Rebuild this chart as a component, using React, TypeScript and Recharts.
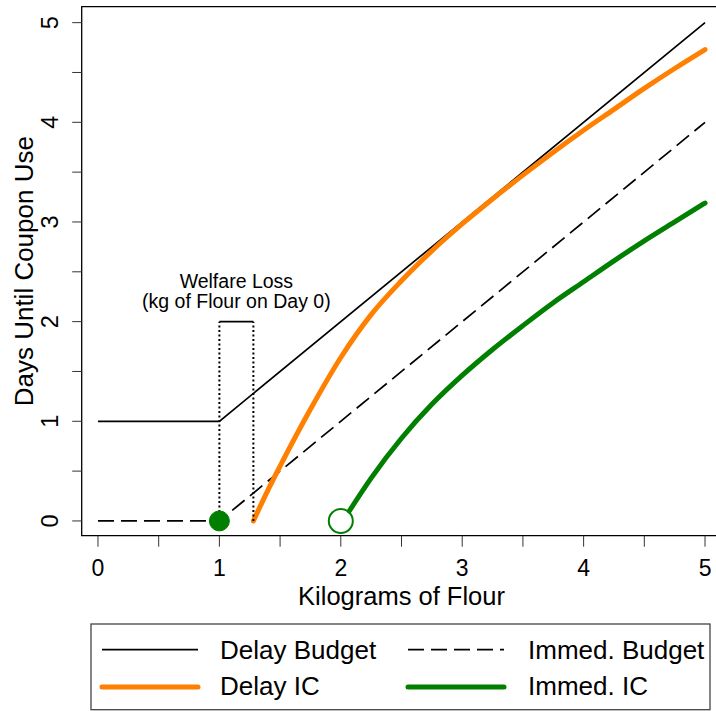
import React from "react";
import {
  ComposedChart,
  Line,
  XAxis,
  YAxis,
  ReferenceArea,
  ReferenceLine,
  ReferenceDot,
} from "recharts";

const FONT = "'Liberation Sans', Arial, sans-serif";
const ORANGE = "#ff8000";
const GREEN = "#007f00";
const YAXIS_WIDTH = 81.7;

// axis setup
const X_TICKS = [0, 0.5, 1, 1.5, 2, 2.5, 3, 3.5, 4, 4.5, 5];
const Y_TICKS = [0, 0.5, 1, 1.5, 2, 2.5, 3, 3.5, 4, 4.5, 5];
const X_DOMAIN: [number, number] = [-0.134, 5.134];
const Y_DOMAIN: [number, number] = [-0.148, 5.16];

// budgets
const DELAY_BUDGET_X = [0, 1, 5];
const DELAY_BUDGET_Y = [1, 1, 5];
const IMMED_BUDGET_X = [0, 1, 5];
const IMMED_BUDGET_Y = [0, 0, 4];

// indifference curves
const DELAY_IC_X = [1.28, 1.4, 1.5, 1.75, 2.0, 2.25, 2.5, 2.75, 3.0, 3.25, 3.5, 3.75, 4.0, 4.25, 4.5, 4.75, 5.0];
const DELAY_IC_Y = [0, 0.31, 0.55, 1.12, 1.64, 2.07, 2.41, 2.71, 2.98, 3.23, 3.47, 3.7, 3.92, 4.13, 4.34, 4.54, 4.73];
const IMMED_IC_X = [2.07, 2.25, 2.5, 2.75, 3.0, 3.25, 3.5, 3.75, 4.0, 4.25, 4.5, 4.75, 5.0];
const IMMED_IC_Y = [0.1, 0.43, 0.83, 1.17, 1.46, 1.72, 1.96, 2.19, 2.4, 2.61, 2.81, 3.0, 3.19];

// markers
const CHOSEN = { x: 1, y: 0 };
const ALTERNATIVE = { x: 2, y: 0 };

// welfare loss bracket
const LOSS_LEFT = 1;
const LOSS_RIGHT = 1.28;
const LOSS_TOP = 2;
const LOSS_TEXT = ["Welfare Loss", "(kg of Flour on Day 0)"];

const LEGEND_ITEMS = [
  { label: "Delay Budget", color: "#000", width: 1.7, dash: undefined as string | undefined },
  { label: "Immed. Budget", color: "#000", width: 1.7, dash: "16 7" },
  { label: "Delay IC", color: ORANGE, width: 5, dash: undefined },
  { label: "Immed. IC", color: GREEN, width: 5, dash: undefined },
];

const toRows = (xs: number[], ys: number[]) => xs.map((x, i) => ({ x, y: ys[i] }));

const delayBudget = toRows(DELAY_BUDGET_X, DELAY_BUDGET_Y);
const immedBudget = toRows(IMMED_BUDGET_X, IMMED_BUDGET_Y);
const delayIC = toRows(DELAY_IC_X, DELAY_IC_Y);
const immedIC = toRows(IMMED_IC_X, IMMED_IC_Y);

function XTick({ x, y, payload }: any) {
  if (!Number.isInteger(payload.value)) return <g />;
  return (
    <text x={x} y={y} dy={27} textAnchor="middle" fontSize={23} fontFamily={FONT} fill="#000">
      {payload.value}
    </text>
  );
}

function YTick({ y, payload }: any) {
  if (!Number.isInteger(payload.value)) return <g />;
  // baseline of the rotated label sits ~24px left of the frame
  const bx = YAXIS_WIDTH - 24;
  return (
    <text
      x={bx}
      y={y}
      transform={`rotate(-90 ${bx} ${y})`}
      textAnchor="middle"
      fontSize={23.5}
      fontFamily={FONT}
      fill="#000"
    >
      {payload.value}
    </text>
  );
}

function WelfareLabel({ viewBox }: any) {
  const cx = viewBox.x + viewBox.width / 2;
  const cy = viewBox.y + viewBox.height / 2;
  return (
    <g>
      <text x={cx} y={cy - 34} textAnchor="middle" fontSize={19.5} fontFamily={FONT} fill="#000">
        {LOSS_TEXT[0]}
      </text>
      <text x={cx} y={cy - 14} textAnchor="middle" fontSize={19.5} fontFamily={FONT} fill="#000">
        {LOSS_TEXT[1]}
      </text>
    </g>
  );
}

function ChartLegend() {
  return (
    <svg
      width={621}
      height={88}
      style={{ position: "absolute", left: 90, top: 623 }}
    >
      <rect x={1} y={1} width={619} height={85.7} fill="#fff" stroke="#444" strokeWidth={1.3} />
      {LEGEND_ITEMS.map((item, i) => {
        const col = i % 2;
        const row = Math.floor(i / 2);
        const lx = col === 0 ? 12 : 318;
        const ly = row === 0 ? 26.7 : 64;
        return (
          <g key={item.label}>
            <line
              x1={lx}
              x2={lx + 96}
              y1={ly}
              y2={ly}
              stroke={item.color}
              strokeWidth={item.width}
              strokeDasharray={item.dash}
              strokeLinecap={item.width > 3 ? "round" : "butt"}
            />
            <text
              x={col === 0 ? 130 : 438}
              y={row === 0 ? 35.7 : 72}
              fontSize={26}
              fontFamily={FONT}
              fill="#000"
            >
              {item.label}
            </text>
          </g>
        );
      })}
    </svg>
  );
}

export default function App() {
  return (
    <div
      style={{
        position: "absolute",
        left: 0,
        top: 0,
        width: 716,
        height: 711,
        overflow: "hidden",
        background: "#fff",
      }}
    >
      <ComposedChart
        width={732}
        height={711}
        margin={{ top: 6.7, right: 10.7, bottom: 115.3, left: 0 }}
      >
        <XAxis
          type="number"
          dataKey="x"
          domain={X_DOMAIN}
          ticks={X_TICKS}
          allowDataOverflow
          axisLine={false}
          tickLine={{ stroke: "#333" }}
          tickSize={11}
          tick={<XTick />}
          height={60}
          interval={0}
          label={{
            content: ({ viewBox }: any) => (
              <text
                x={viewBox.x + viewBox.width / 2}
                y={viewBox.y + 69.5}
                textAnchor="middle"
                fontSize={25.5}
                fontFamily={FONT}
                fill="#000"
              >
                Kilograms of Flour
              </text>
            ),
          }}
        />
        <YAxis
          type="number"
          dataKey="y"
          domain={Y_DOMAIN}
          ticks={Y_TICKS}
          allowDataOverflow
          axisLine={false}
          tickLine={{ stroke: "#333" }}
          tickSize={9.5}
          tick={<YTick />}
          width={YAXIS_WIDTH}
          interval={0}
          label={{
            content: ({ viewBox }: any) => {
              const cx = 33;
              const cy = viewBox.y + viewBox.height / 2;
              return (
                <text
                  x={cx}
                  y={cy}
                  transform={`rotate(-90 ${cx} ${cy})`}
                  textAnchor="middle"
                  fontSize={26}
                  fontFamily={FONT}
                  fill="#000"
                >
                  Days Until Coupon Use
                </text>
              );
            },
          }}
        />
        <ReferenceArea
          x1={X_DOMAIN[0]}
          x2={X_DOMAIN[1]}
          y1={Y_DOMAIN[0]}
          y2={Y_DOMAIN[1]}
          fill="none"
          stroke="#000"
          strokeWidth={1.3}
        />
        <Line
          data={delayBudget}
          dataKey="y"
          type="linear"
          stroke="#000"
          strokeWidth={1.7}
          dot={false}
          activeDot={false}
          isAnimationActive={false}
        />
        <Line
          data={immedBudget}
          dataKey="y"
          type="linear"
          stroke="#000"
          strokeWidth={1.7}
          strokeDasharray="16 7"
          dot={false}
          activeDot={false}
          isAnimationActive={false}
        />
        <Line
          data={delayIC}
          dataKey="y"
          type="monotone"
          stroke={ORANGE}
          strokeWidth={5}
          strokeLinecap="round"
          dot={false}
          activeDot={false}
          isAnimationActive={false}
        />
        <Line
          data={immedIC}
          dataKey="y"
          type="monotone"
          stroke={GREEN}
          strokeWidth={5}
          strokeLinecap="round"
          dot={false}
          activeDot={false}
          isAnimationActive={false}
        />
        <ReferenceDot x={CHOSEN.x} y={CHOSEN.y} r={10} fill={GREEN} stroke={GREEN} />
        <ReferenceDot x={ALTERNATIVE.x} y={ALTERNATIVE.y} r={12} fill="none" stroke={GREEN} strokeWidth={2} />
        <ReferenceLine
          segment={[{ x: LOSS_LEFT, y: 0 }, { x: LOSS_LEFT, y: LOSS_TOP }]}
          stroke="#000"
          strokeWidth={2}
          strokeDasharray="2 2.5"
        />
        <ReferenceLine
          segment={[{ x: LOSS_RIGHT, y: 0 }, { x: LOSS_RIGHT, y: LOSS_TOP }]}
          stroke="#000"
          strokeWidth={2}
          strokeDasharray="2 2.5"
        />
        <ReferenceLine
          segment={[{ x: LOSS_LEFT, y: LOSS_TOP }, { x: LOSS_RIGHT, y: LOSS_TOP }]}
          stroke="#000"
          strokeWidth={1.7}
        />
        <ReferenceDot
          x={(LOSS_LEFT + LOSS_RIGHT) / 2}
          y={LOSS_TOP}
          r={1}
          fill="none"
          stroke="none"
          label={{ content: (p: any) => <WelfareLabel {...p} /> }}
        />
      </ComposedChart>
      <ChartLegend />
    </div>
  );
}
